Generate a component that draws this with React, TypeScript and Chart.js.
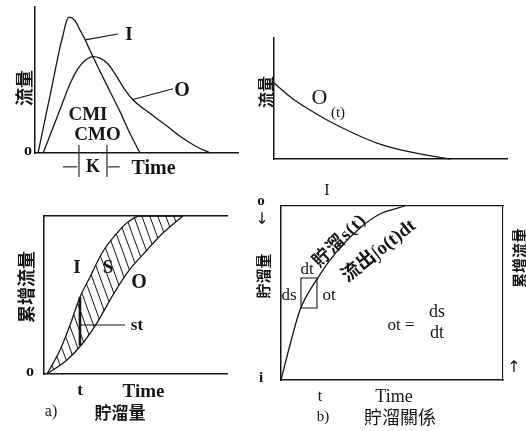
import React, { useEffect, useRef } from "react";
import { Chart, registerables } from "chart.js";

Chart.register(...registerables);

// ---------- data (time units / flow units) ----------
// a-top: inflow hydrograph I and outflow hydrograph O
const HYD_I_T = [0.3, 0.9, 1.5, 2.0, 2.4, 2.8, 3.05, 3.35, 3.95, 4.45, 4.95, 5.4, 6.4, 7.4, 8.4, 9.35, 10.35];
const HYD_I_Q = [0, 2.0, 4.0, 5.7, 7.05, 8.2, 8.9, 9.3, 9.05, 8.4, 7.75, 7.05, 5.6, 4.2, 2.8, 1.35, 0];
const HYD_O_T = [0.8, 1.5, 2.45, 3.45, 4.25, 4.95, 5.7, 6.4, 7.2, 7.9, 8.75, 9.65, 11.35, 13.0, 14.3, 15.75, 17.25];
const HYD_O_Q = [0, 1.25, 2.95, 4.75, 5.8, 6.35, 6.6, 6.5, 6.1, 5.4, 4.45, 3.65, 2.7, 1.85, 1.15, 0.5, 0];
const CMI_T = 4.33; // centroid of inflow
const CMO_T = 7.09; // centroid of outflow
const I_LEADER_T = [4.95, 8.15];
const I_LEADER_Q = [7.75, 8.15];
const O_LEADER_T = [9.55, 13.6];
const O_LEADER_Q = [3.65, 4.4];
const K_TICK_Q = [0.55, -1.65];
const K_DASH_Q = -0.95;
const K_DASH_L = [2.75, 4.15];
const K_DASH_R = [7.2, 8.35];

// b-top: outflow recession O(t)
const REC_T = [0, 1.63, 3.09, 4.55, 6.78, 8.84, 11.67, 15.11];
const REC_Q = [6.28, 4.96, 4.05, 3.22, 2.15, 1.32, 0.58, 0];

// a-bottom: cumulative inflow / outflow (mass curves)
const CUM_I_T = [0.33, 1.75, 2.85, 3.93, 5.03, 6.34, 7.98, 9.18, 10.49, 15.19];
const CUM_I_V = [0, 1.52, 3.1, 4.87, 6.14, 7.66, 8.92, 9.62, 10, 10];
const CUM_O_T = [0.33, 2.51, 4.26, 5.79, 7.21, 9.07, 11.26, 13.0, 15.19];
const CUM_O_V = [0, 0.89, 1.96, 3.23, 4.68, 6.39, 7.85, 8.92, 10];
const T_MARK = 3.93;
const ST_RANGE = [4.87, 1.8];
const ST_LEADER_T = [3.93, 8.85];
const ST_LEADER_V = 3.1;

// b-bottom: storage s(t)
const STO_T = [0, 0.81, 1.71, 3.24, 5.05, 7.12, 8.92, 11.17];
const STO_V = [0, 2.01, 4.02, 5.8, 7.41, 8.74, 9.54, 10];
const DT_RANGE = [1.8, 3.24];
const DS_RANGE = [4.14, 5.86];

// ---------- styling ----------
const INK = "#161616";
const SERIF = "'Liberation Serif','DejaVu Serif',serif";
const CJK = "'Noto Sans CJK TC','Noto Sans CJK SC',sans-serif";
const MIX = "'Liberation Serif','Noto Sans CJK TC',serif";

const pts = (xs: number[], ys: number[]) => xs.map((x, i) => ({ x, y: ys[i] }));

const line = (xs: number[], ys: number[], extra: any = {}) => ({
  data: pts(xs, ys),
  borderColor: INK,
  borderWidth: 1.3,
  pointRadius: 0,
  fill: false,
  tension: 0,
  clip: false,
  ...extra,
});

const curve = (xs: number[], ys: number[], extra: any = {}) =>
  line(xs, ys, { cubicInterpolationMode: "monotone", ...extra });

const axis = (position: string, min: number, max: number, show: boolean, dash: number[] = [], width = 1.5) => ({
  type: "linear",
  position,
  min,
  max,
  display: true,
  ticks: { display: false },
  grid: { display: false, drawTicks: false },
  border: { display: show, color: INK, width, dash },
});

function makeConfig(datasets: any[], scales: any, pad: any) {
  return {
    type: "line",
    data: { datasets },
    options: {
      animation: false,
      responsive: false,
      layout: { padding: pad, autoPadding: false },
      plugins: { legend: { display: false }, tooltip: { enabled: false }, title: { display: false } },
      scales,
      events: [],
    },
  } as any;
}

function makeHatch(): CanvasPattern | string {
  const c = document.createElement("canvas");
  const w = 8, h = 22;
  c.width = w;
  c.height = h;
  const g = c.getContext("2d");
  if (!g) return "rgba(0,0,0,0.3)";
  g.strokeStyle = INK;
  g.lineWidth = 1;
  g.beginPath();
  for (const o of [-w, 0, w]) {
    g.moveTo(o, 0);
    g.lineTo(o + w, h);
  }
  g.stroke();
  return g.createPattern(c, "repeat") || "rgba(0,0,0,0.3)";
}

type Lbl = { x: number; y: number; t: string; s: number; f?: string; w?: number; r?: number; ls?: number };

const LABELS: Lbl[] = [
  // a-top
  { x: 23, y: 88, t: "流量", s: 18, f: CJK, w: 700, r: -90 },
  { x: 28, y: 150, t: "o", s: 16, w: 700 },
  { x: 129, y: 33, t: "I", s: 19, w: 700 },
  { x: 182, y: 89, t: "O", s: 20, w: 700 },
  { x: 88, y: 113, t: "CMI", s: 19, w: 700 },
  { x: 97.5, y: 133, t: "CMO", s: 19, w: 700 },
  { x: 93, y: 166, t: "K", s: 18, w: 700 },
  { x: 153.5, y: 167, t: "Time", s: 20, w: 700 },
  // b-top
  { x: 265, y: 92, t: "流量", s: 16, f: CJK, w: 700, r: -90 },
  { x: 319.5, y: 97, t: "O", s: 22 },
  { x: 338, y: 112, t: "(t)", s: 15 },
  // a-bottom
  { x: 25, y: 287, t: "累增流量", s: 18, f: CJK, w: 700, r: -90 },
  { x: 30, y: 371, t: "o", s: 16, w: 700 },
  { x: 77, y: 266, t: "I", s: 19, w: 700 },
  { x: 108, y: 266, t: "S", s: 19, w: 700 },
  { x: 139, y: 281, t: "O", s: 20, w: 700 },
  { x: 137, y: 324, t: "st", s: 17, w: 700 },
  { x: 80, y: 389, t: "t", s: 17, w: 700 },
  { x: 143.5, y: 390, t: "Time", s: 19, w: 700 },
  { x: 51, y: 411, t: "a)", s: 16 },
  { x: 120, y: 411, t: "貯溜量", s: 17, f: CJK, w: 700 },
  // b-bottom
  { x: 261, y: 200, t: "o", s: 15, w: 700 },
  { x: 262, y: 219, t: "↓", s: 16, f: "'DejaVu Sans',sans-serif" },
  { x: 262, y: 276, t: "貯溜量", s: 15, f: CJK, w: 700, r: -90 },
  { x: 261, y: 377, t: "i", s: 15, w: 700 },
  { x: 518, y: 258, t: "累增流量", s: 15, f: CJK, w: 700, r: -90 },
  { x: 514, y: 367, t: "↑", s: 16, f: "'DejaVu Sans',sans-serif" },
  { x: 327, y: 190, t: "I", s: 16 },
  { x: 307, y: 268, t: "dt", s: 17 },
  { x: 289, y: 294, t: "ds", s: 17 },
  { x: 329, y: 294, t: "ot", s: 17 },
  { x: 339, y: 240, t: "貯溜s(t)", s: 18, f: MIX, w: 700, r: -45, ls: 1 },
  { x: 378, y: 250, t: "流出∫o(t)dt", s: 19, f: MIX, w: 700, r: -38.5 },
  { x: 401, y: 324, t: "ot =", s: 17 },
  { x: 437, y: 311, t: "ds", s: 18 },
  { x: 437, y: 332, t: "dt", s: 18 },
  { x: 320, y: 396, t: "t", s: 16 },
  { x: 394, y: 396, t: "Time", s: 18 },
  { x: 323, y: 416, t: "b)", s: 15 },
  { x: 400, y: 416, t: "貯溜關係", s: 18, f: CJK },
];

const PANELS = [
  { left: 0, top: 0, w: 250, h: 185 },
  { left: 260, top: 30, w: 266, h: 140 },
  { left: 0, top: 200, w: 240, h: 200 },
  { left: 260, top: 190, w: 266, h: 200 },
];

export default function App() {
  const r0 = useRef<HTMLCanvasElement>(null);
  const r1 = useRef<HTMLCanvasElement>(null);
  const r2 = useRef<HTMLCanvasElement>(null);
  const r3 = useRef<HTMLCanvasElement>(null);

  useEffect(() => {
    const charts: Chart[] = [];
    const hatch = makeHatch();

    // a-top hydrographs
    charts.push(
      new Chart(
        r0.current!,
        makeConfig(
          [
            curve(HYD_I_T, HYD_I_Q),
            curve(HYD_O_T, HYD_O_Q),
            line(I_LEADER_T, I_LEADER_Q, { borderWidth: 1.1 }),
            line(O_LEADER_T, O_LEADER_Q, { borderWidth: 1.1 }),
            line([CMI_T, CMI_T], K_TICK_Q, { borderWidth: 1.1 }),
            line([CMO_T, CMO_T], K_TICK_Q, { borderWidth: 1.1 }),
            line(K_DASH_L, [K_DASH_Q, K_DASH_Q], { borderWidth: 1.1 }),
            line(K_DASH_R, [K_DASH_Q, K_DASH_Q], { borderWidth: 1.1 }),
          ],
          { x: axis("bottom", 0, 20, true), y: axis("left", 0, 10, true) },
          { left: 35, top: 7, right: 12, bottom: 32 }
        )
      )
    );

    // b-top recession
    charts.push(
      new Chart(
        r1.current!,
        makeConfig(
          [curve(REC_T, REC_Q)],
          { x: axis("bottom", 0, 20, true), y: axis("left", 0, 10, true) },
          { left: 14, top: 8, right: 19, bottom: 11 }
        )
      )
    );

    // a-bottom mass curves with hatched storage
    charts.push(
      new Chart(
        r2.current!,
        makeConfig(
          [
            curve(CUM_I_T, CUM_I_V, { fill: "+1", backgroundColor: hatch }),
            curve(CUM_O_T, CUM_O_V),
            line([T_MARK, T_MARK], ST_RANGE, { borderWidth: 2.6 }),
            line(ST_LEADER_T, [ST_LEADER_V, ST_LEADER_V], { borderWidth: 1.1 }),
          ],
          {
            x: axis("bottom", 0, 20, true),
            y: axis("left", 0, 10, true),
            x2: axis("top", 0, 20, true),
          },
          { left: 44, top: 16, right: 13, bottom: 26 }
        )
      )
    );

    // b-bottom storage relation
    charts.push(
      new Chart(
        r3.current!,
        makeConfig(
          [
            curve(STO_T, STO_V),
            line(
              [DT_RANGE[0], DT_RANGE[1], DT_RANGE[1], DT_RANGE[0], DT_RANGE[0]],
              [DS_RANGE[0], DS_RANGE[0], DS_RANGE[1], DS_RANGE[1], DS_RANGE[0]],
              { borderWidth: 1.1 }
            ),
          ],
          {
            x: axis("bottom", 0, 20, true),
            y: axis("left", 0, 10, true),
            x2: axis("top", 0, 20, true, [8, 4], 1.3),
            y2: axis("right", 0, 10, true, [], 1.1),
          },
          { left: 21, top: 16, right: 23, bottom: 10 }
        )
      )
    );

    return () => charts.forEach((c) => c.destroy());
  }, []);

  const refs = [r0, r1, r2, r3];

  return (
    <div
      style={{
        position: "absolute",
        left: 0,
        top: 0,
        width: 526,
        height: 431,
        background: "#fff",
        overflow: "hidden",
      }}
    >
      {PANELS.map((p, i) => (
        <canvas
          key={i}
          ref={refs[i]}
          width={p.w}
          height={p.h}
          style={{ position: "absolute", left: p.left, top: p.top, width: p.w, height: p.h }}
        />
      ))}
      {LABELS.map((l, i) => (
        <span
          key={i}
          style={{
            position: "absolute",
            left: l.x,
            top: l.y,
            transform: `translate(-50%,-50%)${l.r ? ` rotate(${l.r}deg)` : ""}`,
            fontFamily: l.f || SERIF,
            fontSize: l.s,
            fontWeight: l.w || 400,
            letterSpacing: l.ls || 0,
            lineHeight: 1,
            whiteSpace: "nowrap",
            color: INK,
          }}
        >
          {l.t}
        </span>
      ))}
    </div>
  );
}
